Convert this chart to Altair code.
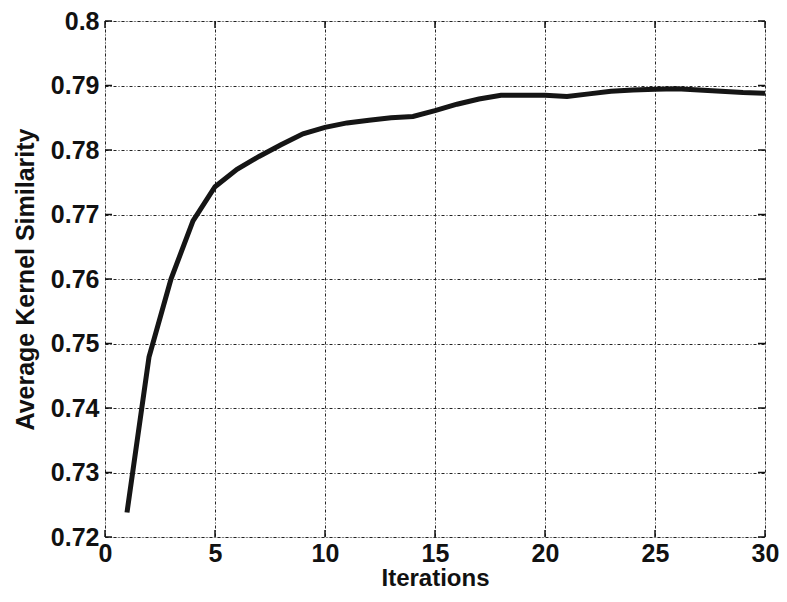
import altair as alt
import pandas as pd

iterations = list(range(1, 31))
similarity = [0.7238, 0.7479, 0.7600, 0.7690, 0.7743, 0.7770, 0.7790, 0.7808, 0.7825, 0.7835,
              0.7842, 0.7846, 0.7850, 0.7852, 0.7861, 0.7871, 0.7879, 0.7885, 0.7885, 0.7885,
              0.7883, 0.7887, 0.7891, 0.7893, 0.7894, 0.7895, 0.7893, 0.7891, 0.7889, 0.7888]

x_ticks = [0, 5, 10, 15, 20, 25, 30]
y_ticks = [0.72, 0.73, 0.74, 0.75, 0.76, 0.77, 0.78, 0.79, 0.80]

W, H = 660, 516
FONT = "Liberation Sans"

df = pd.DataFrame({"Iterations": iterations, "Similarity": similarity})
xt = pd.DataFrame({"t": x_ticks})
yt = pd.DataFrame({"t": y_ticks})

xscale = alt.Scale(domain=[0, 30], nice=False, zero=False)
yscale = alt.Scale(domain=[0.72, 0.80], nice=False, zero=False)

line = alt.Chart(df).mark_line(color="#151515", strokeWidth=5).encode(
    x=alt.X("Iterations:Q", scale=xscale,
            axis=alt.Axis(title="Iterations", values=x_ticks, ticks=False, domain=False,
                          grid=True, gridColor="#222", gridDash=[3, 2, 1, 2], gridWidth=1,
                          labelFont=FONT, labelFontSize=25, labelFontWeight="bold",
                          labelColor="#111", labelPadding=4, labelFlush=False,
                          titleFont=FONT, titleFontSize=24, titleFontWeight="bold",
                          titleColor="#111", titleBaseline="alphabetic", titleY=48)),
    y=alt.Y("Similarity:Q", scale=yscale,
            axis=alt.Axis(title="Average Kernel Similarity", values=y_ticks, format=".2~f",
                          ticks=False, domain=False,
                          grid=True, gridColor="#222", gridDash=[3, 2, 1, 2], gridWidth=1,
                          labelFont=FONT, labelFontSize=25, labelFontWeight="bold",
                          labelColor="#111", labelPadding=6, labelFlush=False,
                          titleFont=FONT, titleFontSize=25, titleFontWeight="bold",
                          titleColor="#111", titlePadding=12)),
)

tick_color = "#111"
yt_left = alt.Chart(yt).mark_rule(color=tick_color, strokeWidth=1.5).encode(
    y=alt.Y("t:Q", scale=yscale), x=alt.value(0), x2=alt.value(7))
yt_right = alt.Chart(yt).mark_rule(color=tick_color, strokeWidth=1.5).encode(
    y=alt.Y("t:Q", scale=yscale), x=alt.value(W - 7), x2=alt.value(W))
xt_bottom = alt.Chart(xt).mark_rule(color=tick_color, strokeWidth=1.5).encode(
    x=alt.X("t:Q", scale=xscale), y=alt.value(H), y2=alt.value(H - 7))
xt_top = alt.Chart(xt).mark_rule(color=tick_color, strokeWidth=1.5).encode(
    x=alt.X("t:Q", scale=xscale), y=alt.value(0), y2=alt.value(7))

chart = alt.layer(yt_left, yt_right, xt_bottom, xt_top, line).properties(
    width=W, height=H,
    autosize=alt.AutoSizeParams(type="none"),
    padding={"left": 97, "top": 13, "right": 14, "bottom": 52},
).configure_view(stroke="#222", strokeWidth=1.5).configure(background="white")

chart.save("out.html", embed_options={"renderer": "svg", "actions": False})
